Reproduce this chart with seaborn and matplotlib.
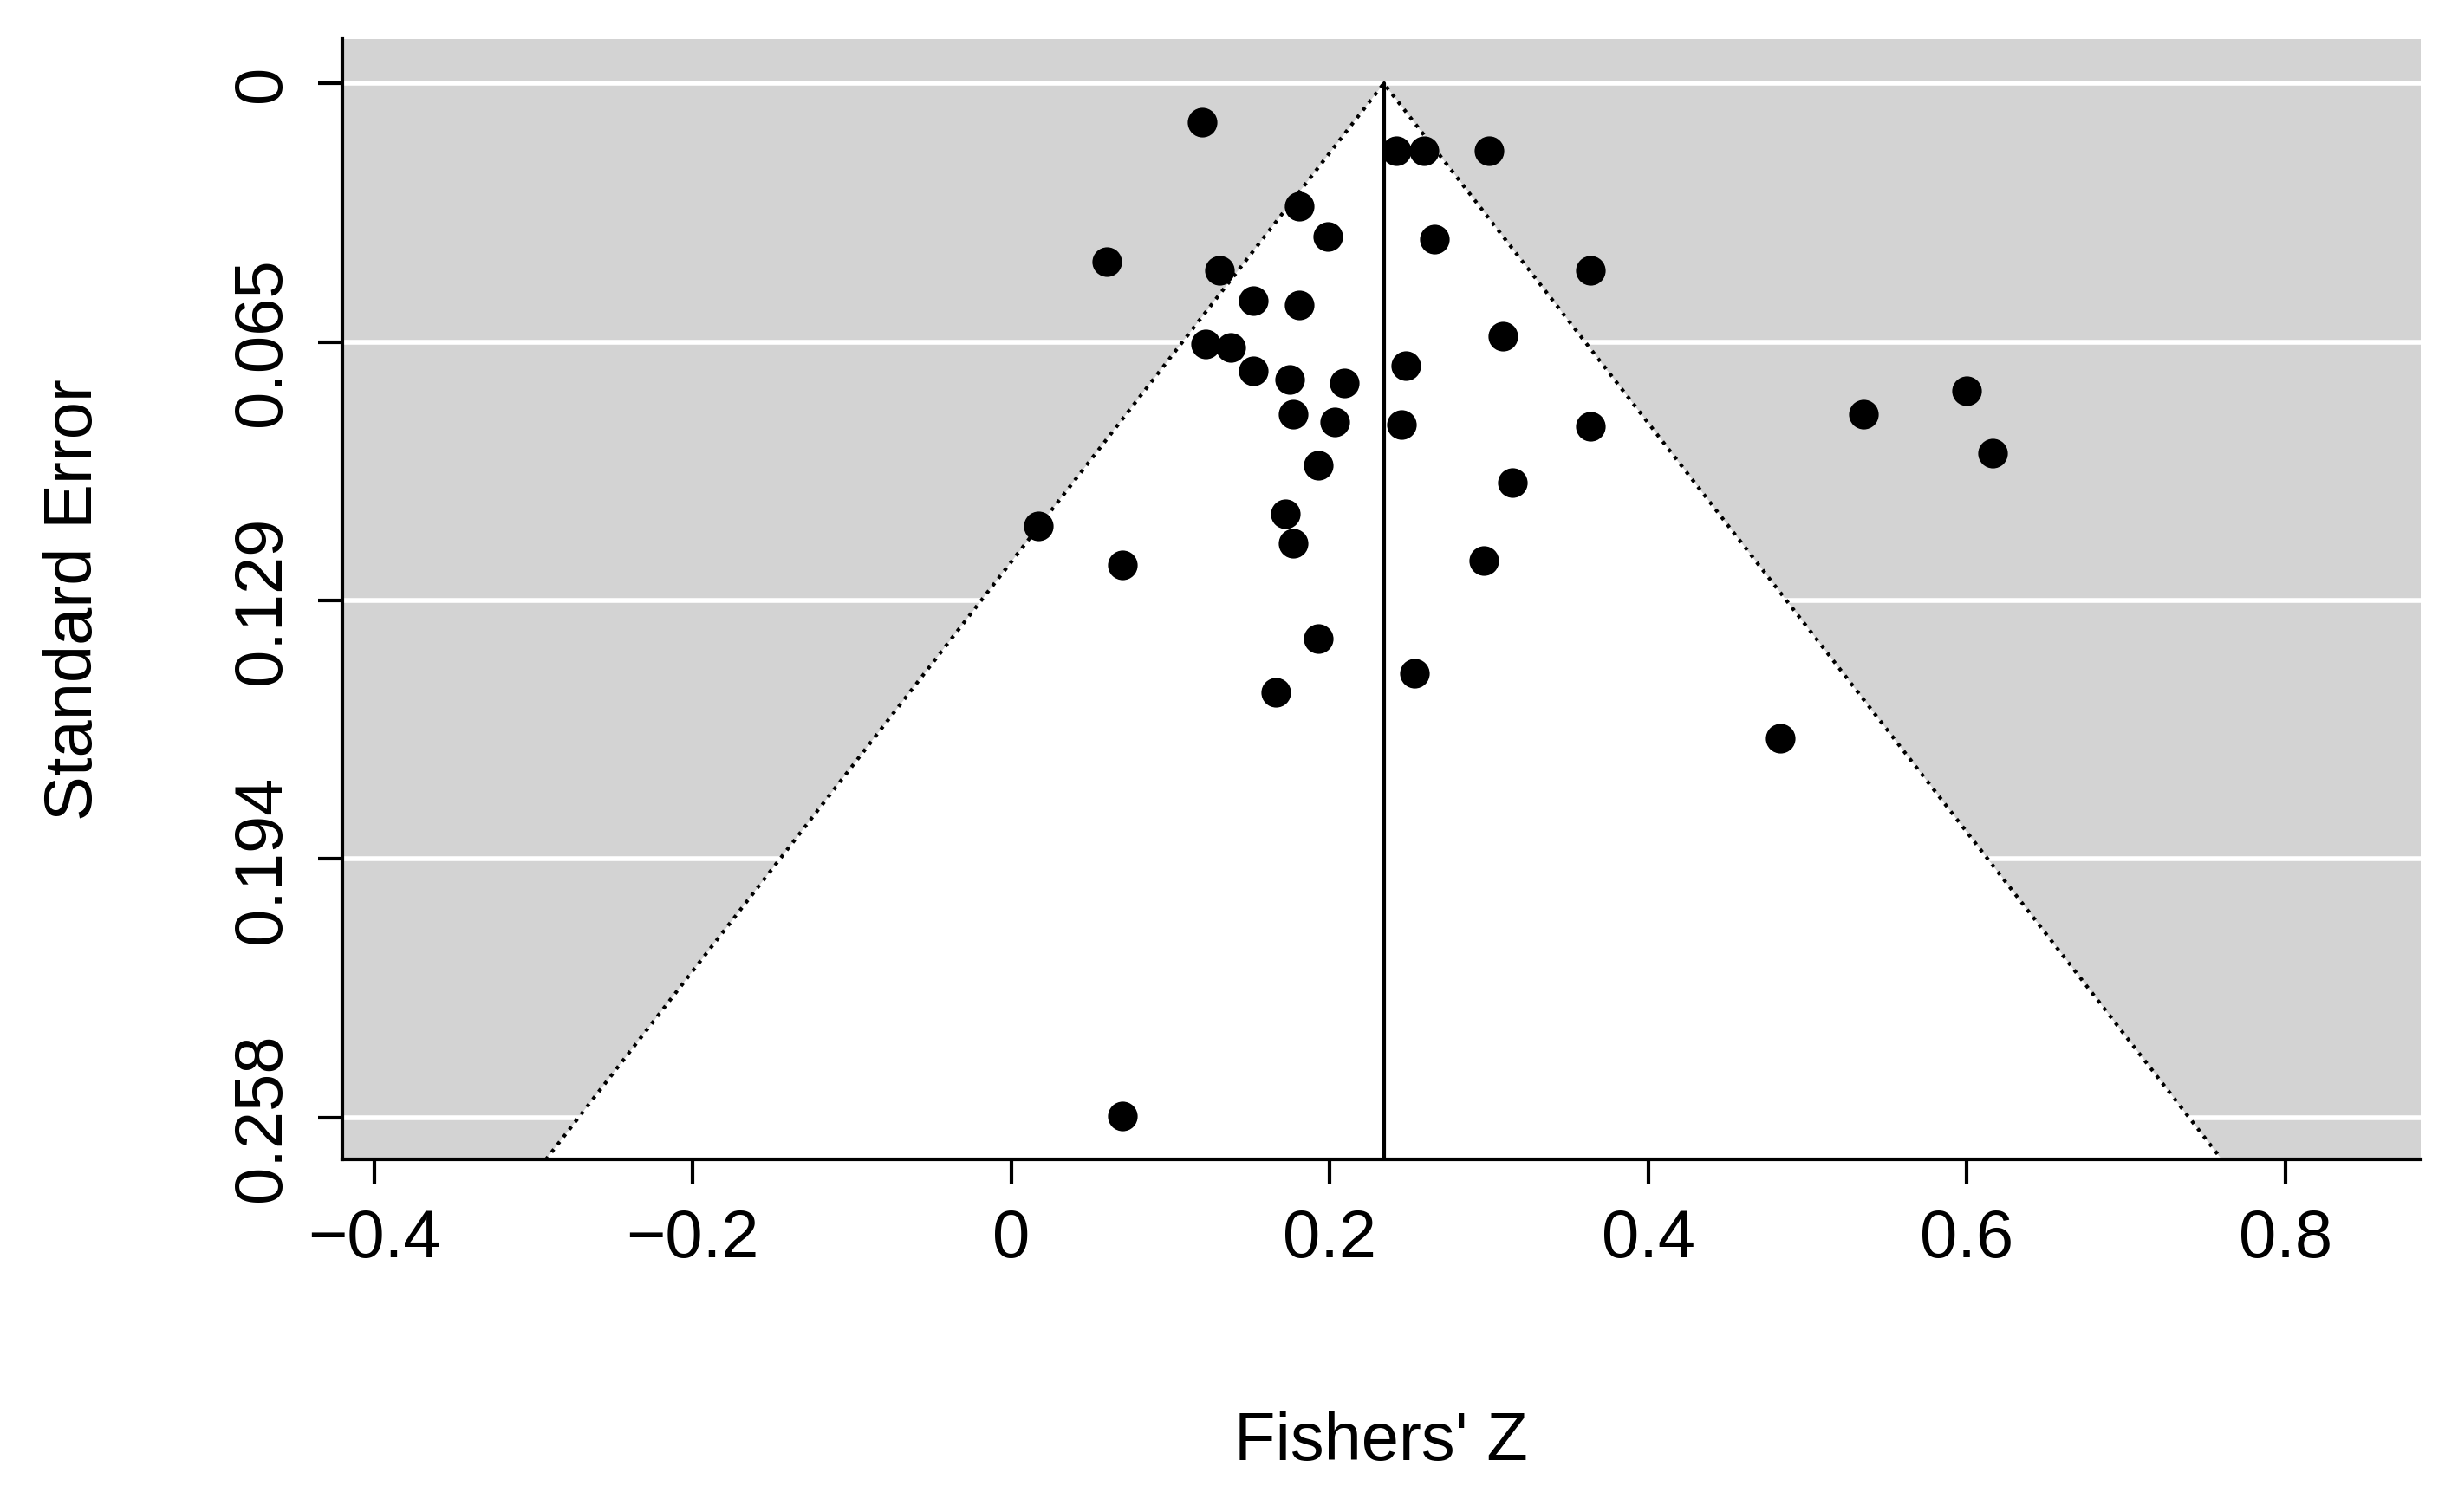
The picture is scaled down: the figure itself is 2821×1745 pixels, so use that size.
import numpy as np
import pandas as pd
import seaborn as sns
import matplotlib.pyplot as plt
from matplotlib.patches import Polygon

# effect sizes (Fisher's Z) and standard errors
fisher_z = [0.120, 0.242, 0.259, 0.300, 0.181, 0.199, 0.266, 0.060, 0.131, 0.364,
            0.152, 0.181, 0.309, 0.122, 0.138, 0.152, 0.248, 0.175, 0.209, 0.600,
            0.177, 0.203, 0.245, 0.364, 0.535, 0.616, 0.193, 0.315, 0.172, 0.017,
            0.177, 0.070, 0.297, 0.193, 0.253, 0.166, 0.483, 0.070]
std_err = [0.0097, 0.0167, 0.0167, 0.0167, 0.0307, 0.0381, 0.0389, 0.0444, 0.0467, 0.0467,
           0.0541, 0.0553, 0.0630, 0.0650, 0.0658, 0.0716, 0.0704, 0.0739, 0.0747, 0.0767,
           0.0825, 0.0844, 0.0852, 0.0856, 0.0825, 0.0922, 0.0953, 0.0996, 0.1074, 0.1105,
           0.1148, 0.1202, 0.1191, 0.1385, 0.1471, 0.1518, 0.1634, 0.2576]
pooled = 0.234
se_ticks = [0, 0.0645, 0.129, 0.1935, 0.258]
se_labels = ['0', '0.065', '0.129', '0.194', '0.258']
x_ticks = [-0.4, -0.2, 0, 0.2, 0.4, 0.6, 0.8]

data = pd.DataFrame({'z': fisher_z, 'se': std_err})

sns.set_style('ticks')
plt.rcParams['font.family'] = ['Liberation Sans', 'DejaVu Sans']

fig = plt.figure(figsize=(14.105, 8.725), dpi=200)
ax = fig.add_axes([0.140, 0.233, 0.850, 0.741])
ax.set_facecolor('lightgray')

ymin, ymax = -0.011, 0.2685
ax.set_xlim(-0.42, 0.885)
ax.set_ylim(ymax, ymin)

# funnel region
lo = pooled - 1.96 * ymax
hi = pooled + 1.96 * ymax
ax.add_patch(Polygon([(lo, ymax), (pooled, 0), (hi, ymax)], closed=True,
                     facecolor='white', edgecolor='none', zorder=1))
for t in se_ticks:
    ax.axhline(t, color='white', lw=2, zorder=1.5)
ax.plot([lo, pooled, hi], [ymax, 0, ymax], ls=':', color='black', lw=1.5, zorder=2)
ax.plot([pooled, pooled], [0, ymax], color='black', lw=1.5, zorder=2)

sns.scatterplot(data=data, x='z', y='se', ax=ax, color='black', s=130,
                edgecolor='black', zorder=3)

ax.set_xticks(x_ticks)
ax.set_xticklabels(['\u22120.4', '\u22120.2', '0', '0.2', '0.4', '0.6', '0.8'])
ax.set_yticks(se_ticks)
ax.set_yticklabels(se_labels, rotation=90, va='center')
ax.tick_params(labelsize=28, length=10, width=1.5, pad=10, colors='black')
ax.set_xlabel("Fishers' Z", fontsize=28, labelpad=58, color='black')
ax.set_ylabel('Standard Error', fontsize=28, labelpad=52, color='black')
for s in ['top', 'right']:
    ax.spines[s].set_visible(False)
for s in ['left', 'bottom']:
    ax.spines[s].set_linewidth(1.5)
    ax.spines[s].set_color('black')

plt.savefig('out.png', dpi=200)
